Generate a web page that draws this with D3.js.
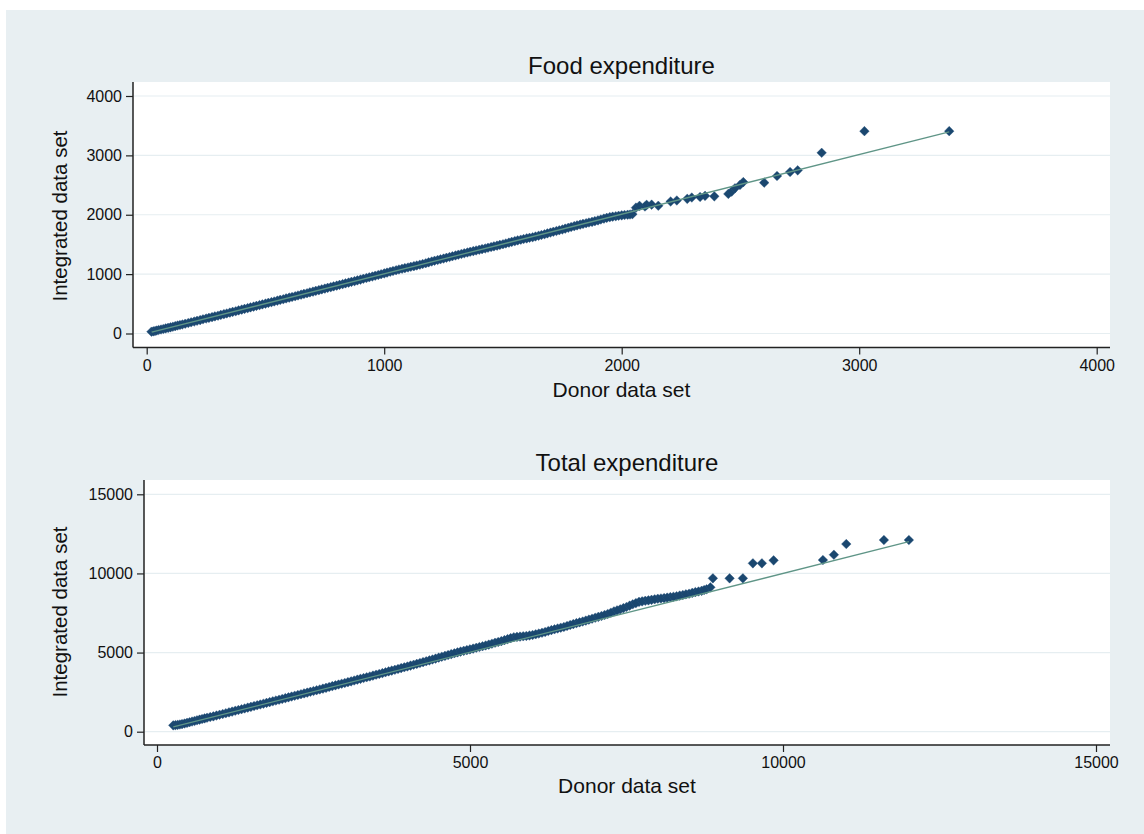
<!DOCTYPE html>
<html><head><meta charset="utf-8">
<script src="https://cdn.jsdelivr.net/npm/d3@7"></script>
<style>body{margin:0;background:#fff}svg{display:block}text{font-family:"Liberation Sans",Arial,sans-serif}</style>
</head><body>
<svg id="c" width="1144" height="834"></svg>
<script>
// ---------- data ----------
const foodTitle = "Food expenditure";
const totalTitle = "Total expenditure";
const xTitle = "Donor data set";
const yTitle = "Integrated data set";
const foodTicks = [0, 1000, 2000, 3000, 4000];
const totalTicks = [0, 5000, 10000, 15000];

const foodDonor = [20,35,50,70,90,110,130,150,175,200,225,250,275,300,325,350,375,400,425,450,475,500,525,550,575,600,625,650,675,700,725,750,775,800,825,850,875,900,925,950,975,1000,1025,1050,1075,1100,1125,1150,1175,1200,1225,1250,1275,1300,1325,1350,1375,1400,1425,1450,1475,1500,1525,1550,1575,1600,1625,1650,1675,1700,1725,1750,1775,1800,1825,1850,1875,1900,1925,1950,1975,2000,2025,2045,
  2060,2075,2098,2105,2126,2154,2206,2232,2276,2295,2330,2351,2390,2449,2463,2477,2498,2512,2600,2654,2709,2741,2842,3022,3379];
const foodIntegrated = [30,42,58,76,95,114,134,152,177,201,226,252,276,300,326,351,376,402,427,452,478,503,528,553,578,604,628,654,679,705,730,756,781,806,832,857,882,908,934,960,986,1012,1040,1066,1090,1112,1134,1158,1184,1212,1238,1262,1288,1314,1340,1364,1388,1410,1432,1456,1480,1504,1530,1556,1580,1602,1622,1646,1672,1700,1726,1752,1780,1808,1834,1858,1880,1905,1935,1960,1975,1990,2000,2010,
  2120,2150,2139,2167,2170,2151,2223,2240,2268,2290,2300,2318,2310,2351,2390,2447,2502,2550,2541,2653,2720,2748,3043,3408,3408];
// further observations inside the dense part of the food band
const foodDonorBand = [28,42,60,80,100,120,140,162,187,212,237,262,287,312,337,362,387,412,437,462,487,512,537,562,587,612,637,662,687,712,737,762,787,812,837,862,887,912,937,962,987,1012,1037,1062,1087,1112,1137,1162,1187,1212,1237,1262,1287,1312,1337,1362,1387,1412,1437,1462,1487,1512,1537,1562,1587,1612,1637,1662,1687,1712,1737,1762,1787,1812,1837,1862,1887,1912,1937,1962,1987,2012,2035];
const foodIntegratedBand = [36,50,67,86,104,124,143,164,189,214,239,264,288,313,338,364,389,414,440,465,490,515,540,566,591,616,641,667,692,718,743,769,794,819,845,870,895,921,947,973,999,1026,1053,1078,1101,1123,1146,1171,1198,1225,1250,1275,1301,1327,1352,1376,1399,1421,1444,1468,1492,1517,1543,1568,1591,1612,1634,1659,1686,1713,1739,1766,1794,1821,1846,1869,1892,1920,1948,1968,1983,1995,2004];
const foodFitX = [21, 3379];
const foodFitY = [22, 3394];

const totalDonor = [260,330,400,480,560,640,720,800,900,1000,1100,1200,1300,1400,1500,1600,1700,1800,1900,2000,2100,2200,2300,2400,2500,2600,2700,2800,2900,3000,3100,3200,3300,3400,3500,3600,3700,3800,3900,4000,4100,4200,4300,4400,4500,4600,4700,4800,4900,5000,5100,5200,5300,5400,5500,5600,5700,5800,5900,6000,6100,6200,6300,6400,6500,6600,6700,6800,6900,7000,7100,7200,7300,7400,7500,7600,7700,7800,7900,8000,8100,8200,8300,8400,8500,8600,8700,8780,8840,
  8880,9147,9359,9519,9663,9850,10638,10813,11011,11612,12011];
const totalIntegrated = [400,430,480,560,640,720,800,880,970,1070,1170,1270,1370,1470,1570,1670,1770,1870,1970,2070,2170,2270,2370,2470,2570,2670,2770,2880,2980,3080,3180,3290,3390,3490,3600,3700,3810,3910,4020,4120,4230,4340,4450,4560,4680,4790,4900,5010,5110,5200,5300,5400,5500,5620,5720,5850,5970,6010,6050,6110,6200,6300,6420,6520,6620,6740,6860,6960,7080,7200,7310,7440,7600,7730,7880,8050,8200,8270,8330,8400,8440,8500,8560,8640,8720,8820,8900,9000,9120,
  9690,9690,9690,10638,10638,10827,10846,11181,11857,12110,12110];
// further observations inside the dense part of the total band
const totalDonorBand = [295,365,440,520,600,680,760,850,950,1050,1150,1250,1350,1450,1550,1650,1750,1850,1950,2050,2150,2250,2350,2450,2550,2650,2750,2850,2950,3050,3150,3250,3350,3450,3550,3650,3750,3850,3950,4050,4150,4250,4350,4450,4550,4650,4750,4850,4950,5050,5150,5250,5350,5450,5550,5650,5750,5850,5950,6050,6150,6250,6350,6450,6550,6650,6750,6850,6950,7050,7150,7250,7350,7450,7550,7650,7750,7850,7950,8050,8150,8250,8350,8450,8550,8650,8740];
const totalIntegratedBand = [415,455,520,600,680,760,840,925,1020,1120,1220,1320,1420,1520,1620,1720,1820,1920,2020,2120,2220,2320,2420,2520,2620,2720,2825,2930,3030,3130,3235,3340,3440,3545,3650,3755,3860,3965,4070,4175,4285,4395,4505,4620,4735,4845,4955,5060,5155,5250,5350,5450,5560,5670,5785,5910,5990,6030,6080,6155,6250,6360,6470,6570,6680,6800,6910,7020,7140,7255,7375,7520,7665,7805,7965,8125,8235,8300,8365,8420,8470,8530,8600,8680,8770,8860,8950];
const totalFitX = [260, 12011];
const totalFitY = [300, 12003];

// ---------- drawing ----------
const svg = d3.select("#c");
svg.append("rect").attr("x",6).attr("y",10).attr("width",1138).attr("height",824).attr("fill","#e8eff2");

const navy = "#1a476f", fitCol = "#5f9587", gridCol = "#e6eef1";

function panel(o){
  const g = svg.append("g");
  const x = d3.scaleLinear().domain(o.xDom).range(o.xRange);
  const y = d3.scaleLinear().domain(o.yDom).range(o.yRange);
  g.append("rect").attr("x",o.left).attr("y",o.top).attr("width",o.right-o.left).attr("height",o.bottom-o.top).attr("fill","#fff");
  g.selectAll(".grid").data(o.ticks).join("line")
    .attr("x1",o.left+1).attr("x2",o.right).attr("y1",d=>y(d)).attr("y2",d=>y(d))
    .attr("stroke",gridCol).attr("stroke-width",1.2);
  const pts = o.xs.map((v,i)=>[v,o.ys[i]]).concat(o.xb.map((v,i)=>[v,o.yb[i]]));
  const r = 4.8;
  g.selectAll(".pt").data(pts).join("path")
    .attr("d",d=>{const cx=x(d[0]), cy=y(d[1]); return `M${cx},${cy-r}L${cx+r},${cy}L${cx},${cy+r}L${cx-r},${cy}Z`;})
    .attr("fill",navy).attr("stroke","#2a5680").attr("stroke-width",0.4);
  g.append("path").datum(o.fx.map((v,i)=>[v,o.fy[i]]))
    .attr("d",d3.line().x(d=>x(d[0])).y(d=>y(d[1])))
    .attr("fill","none").attr("stroke",fitCol).attr("stroke-width",1.3);
  const ya = d3.axisLeft(y).tickValues(o.ticks).tickSize(7).tickSizeOuter(0).tickPadding(4).tickFormat(d3.format("d"));
  const yg = g.append("g").attr("transform",`translate(${o.left},0)`).call(ya);
  const xa = d3.axisBottom(x).tickValues(o.ticks).tickSize(7).tickSizeOuter(0).tickPadding(5).tickFormat(d3.format("d"));
  const xg = g.append("g").attr("transform",`translate(0,${o.bottom})`).call(xa);
  [yg,xg].forEach(a=>{
    a.select(".domain").remove();
    a.selectAll("text").attr("font-size",16).attr("fill","#111").attr("font-family","Liberation Sans, Arial, sans-serif");
    a.selectAll("line").attr("stroke","#222").attr("stroke-width",1.2);
  });
  g.append("line").attr("x1",o.left).attr("x2",o.left).attr("y1",o.top).attr("y2",o.bottom).attr("stroke","#222").attr("stroke-width",1.5);
  g.append("line").attr("x1",o.left).attr("x2",o.right).attr("y1",o.bottom).attr("y2",o.bottom).attr("stroke","#222").attr("stroke-width",1.5);
  g.append("text").attr("x",(o.left+o.right)/2).attr("y",o.titleY).attr("text-anchor","middle")
    .attr("font-size",24).attr("fill","#111").text(o.title);
  g.append("text").attr("x",(o.left+o.right)/2).attr("y",o.xTitleY).attr("text-anchor","middle")
    .attr("font-size",21).attr("fill","#111").text(xTitle);
  g.append("text").attr("transform",`translate(${o.yTitleX},${o.yTitleCY}) rotate(-90)`).attr("text-anchor","middle")
    .attr("font-size",20.5).attr("fill","#111").text(yTitle);
}

panel({title:foodTitle, ticks:foodTicks, xDom:[0,4000], yDom:[0,4000],
  xRange:[146.7,1096.7], yRange:[333.5,96], left:133, right:1110, top:82, bottom:347.5,
  xs:foodDonor, ys:foodIntegrated, xb:foodDonorBand, yb:foodIntegratedBand, fx:foodFitX, fy:foodFitY,
  titleY:74, xTitleY:397, yTitleX:67, yTitleCY:216});

panel({title:totalTitle, ticks:totalTicks, xDom:[0,15000], yDom:[0,15000],
  xRange:[157,1096], yRange:[731.7,494.3], left:144, right:1110, top:480, bottom:745,
  xs:totalDonor, ys:totalIntegrated, xb:totalDonorBand, yb:totalIntegratedBand, fx:totalFitX, fy:totalFitY,
  titleY:471, xTitleY:793, yTitleX:67, yTitleCY:612});
</script>
</body></html>
